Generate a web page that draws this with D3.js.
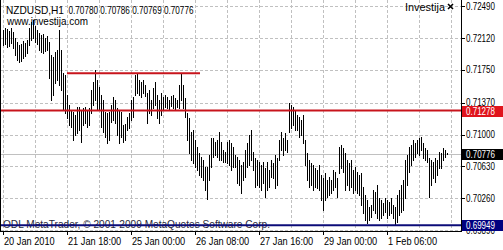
<!DOCTYPE html>
<html>
<head>
<meta charset="utf-8">
<script src="https://cdn.jsdelivr.net/npm/d3@7"></script>
<style>
html, body { margin: 0; padding: 0; background: #ffffff; }
svg { display: block; font-family: "Liberation Sans", Arial, sans-serif; }
</style>
</head>
<body>
<div id="chart"></div>
<script>
var symbol_name = "NZDUSD,H1";
var last_ohlc = ["0.70780", "0.70786", "0.70769", "0.70776"];
var current_price = 0.70776;

// hourly highs / lows, one entry per bar
var highs = [
    0.72212, 0.72235, 0.72223, 0.72200, 0.72235, 0.72188, 0.72119, 0.72073, 0.72038, 0.72049,
    0.72084, 0.72061, 0.72096, 0.72235, 0.72304, 0.72328, 0.72258, 0.72212, 0.72177, 0.72154,
    0.72165, 0.72119, 0.72142, 0.72073, 0.71922, 0.71899, 0.71957, 0.71980, 0.72212, 0.71980,
    0.71713, 0.71690, 0.71458, 0.71342, 0.71284, 0.71261, 0.71226, 0.71319, 0.71319, 0.71284,
    0.71307, 0.71319, 0.71284, 0.71307, 0.71516, 0.71609, 0.71748, 0.71632, 0.71551, 0.71458,
    0.71400, 0.71261, 0.71249, 0.71261, 0.71342, 0.71435, 0.71400, 0.71307, 0.71284, 0.71261,
    0.71110, 0.71122, 0.71203, 0.71249, 0.71400, 0.71435, 0.71690, 0.71713, 0.71632, 0.71609,
    0.71632, 0.71574, 0.71481, 0.71516, 0.71400, 0.71539, 0.71609, 0.71458, 0.71400, 0.71481,
    0.71435, 0.71458, 0.71435, 0.71400, 0.71446, 0.71458, 0.71423, 0.71400, 0.71574, 0.71713,
    0.71574, 0.71423, 0.71249, 0.71191, 0.71029, 0.71052, 0.70936, 0.70855, 0.70785, 0.70739,
    0.70704, 0.70623, 0.70623, 0.70762, 0.70959, 0.70959, 0.70913, 0.70936, 0.71029, 0.70913,
    0.70820, 0.70797, 0.70913, 0.70936, 0.70901, 0.70855, 0.70762, 0.70739, 0.70704, 0.70646,
    0.70681, 0.70820, 0.70901, 0.70994, 0.71052, 0.70797, 0.70727, 0.70704, 0.70681, 0.70646,
    0.70681, 0.70611, 0.70681, 0.70588, 0.70704, 0.70669, 0.70762, 0.70727, 0.70936, 0.71029,
    0.70959, 0.71017, 0.70936, 0.71365, 0.71342, 0.71319, 0.71284, 0.71226, 0.71203, 0.71168,
    0.71226, 0.70936, 0.70785, 0.70704, 0.70669, 0.70646, 0.70611, 0.70588, 0.70646, 0.70530,
    0.70495, 0.70553, 0.70472, 0.70507, 0.70472, 0.70588, 0.70565, 0.70495, 0.70855, 0.70878,
    0.70843, 0.70785, 0.70704, 0.70669, 0.70704, 0.70588, 0.70623, 0.70565, 0.70530, 0.70553,
    0.70391, 0.70298, 0.70240, 0.70159, 0.70182, 0.70356, 0.70333, 0.70414, 0.70263, 0.70240,
    0.70205, 0.70263, 0.70240, 0.70217, 0.70263, 0.70182, 0.70159, 0.70298, 0.70356, 0.70414,
    0.70472, 0.70704, 0.70762, 0.70855, 0.70878, 0.70936, 0.70901, 0.70936, 0.70959, 0.70971,
    0.70901, 0.70843, 0.70820, 0.70727, 0.70704, 0.70681, 0.70727, 0.70704, 0.70797, 0.70785,
    0.70843, 0.70820, 0.70786
];
var lows = [
    0.72038, 0.72049, 0.72015, 0.72026, 0.72061, 0.72003, 0.71922, 0.71864, 0.71841, 0.71852,
    0.71887, 0.71910, 0.71945, 0.72038, 0.72096, 0.72119, 0.72073, 0.72049, 0.71980, 0.71957,
    0.71945, 0.71968, 0.71980, 0.71655, 0.71400, 0.71458, 0.71597, 0.71632, 0.71574, 0.71516,
    0.71284, 0.71249, 0.71191, 0.71110, 0.71087, 0.70936, 0.70994, 0.71017, 0.71052, 0.70913,
    0.71110, 0.71133, 0.71087, 0.71110, 0.71249, 0.71342, 0.71400, 0.71284, 0.71284, 0.71087,
    0.71029, 0.70971, 0.70901, 0.70936, 0.71145, 0.71168, 0.71133, 0.70994, 0.70901, 0.70971,
    0.70913, 0.70936, 0.71052, 0.71075, 0.71168, 0.71203, 0.71458, 0.71481, 0.71458, 0.71435,
    0.71481, 0.71446, 0.71133, 0.71249, 0.71226, 0.71307, 0.71342, 0.71191, 0.71133, 0.71226,
    0.71284, 0.71319, 0.71307, 0.71284, 0.71330, 0.71307, 0.71284, 0.71319, 0.71307, 0.71400,
    0.71307, 0.71203, 0.70936, 0.70785, 0.70704, 0.70669, 0.70623, 0.70588, 0.70530, 0.70507,
    0.70472, 0.70356, 0.70252, 0.70472, 0.70623, 0.70739, 0.70762, 0.70739, 0.70704, 0.70704,
    0.70681, 0.70681, 0.70669, 0.70646, 0.70588, 0.70623, 0.70623, 0.70437, 0.70414, 0.70321,
    0.70472, 0.70507, 0.70623, 0.70646, 0.70704, 0.70588, 0.70391, 0.70414, 0.70391, 0.70356,
    0.70437, 0.70275, 0.70356, 0.70391, 0.70507, 0.70495, 0.70379, 0.70414, 0.70704, 0.70820,
    0.70762, 0.70820, 0.70797, 0.71029, 0.71075, 0.71110, 0.71052, 0.71052, 0.70971, 0.70994,
    0.70901, 0.70646, 0.70472, 0.70391, 0.70414, 0.70356, 0.70391, 0.70379, 0.70356, 0.70240,
    0.70124, 0.70240, 0.70275, 0.70298, 0.70321, 0.70356, 0.70391, 0.70275, 0.70553, 0.70611,
    0.70565, 0.70356, 0.70414, 0.70356, 0.70391, 0.70321, 0.70356, 0.70321, 0.70298, 0.70182,
    0.70089, 0.70008, 0.69973, 0.70008, 0.70043, 0.70124, 0.70089, 0.70031, 0.70008, 0.70031,
    0.70066, 0.70101, 0.70031, 0.70066, 0.70089, 0.70031, 0.69949, 0.69984, 0.70066, 0.70101,
    0.70124, 0.70263, 0.70414, 0.70565, 0.70646, 0.70704, 0.70739, 0.70785, 0.70762, 0.70820,
    0.70727, 0.70704, 0.70681, 0.70275, 0.70414, 0.70495, 0.70449, 0.70530, 0.70611, 0.70611,
    0.70704, 0.70739, 0.70769
];

var price_ticks = [0.72490, 0.72120, 0.71750, 0.71370, 0.71000, 0.70630, 0.70260, 0.69890];
var time_labels = ["20 Jan 2010", "21 Jan 18:00", "25 Jan 00:00", "26 Jan 08:00", "27 Jan 16:00", "29 Jan 00:00", "1 Feb 06:00"];
var time_label_bars = [0, 32, 64, 96, 128, 160, 192];

var support_level = 0.69949;
var resistance_level = 0.71278;
// short trend line: [first bar, last bar, price]
var top_trend_line = [32, 98.5, 0.71710];

var watermark_text = "ODL MetaTrader, \u00a9 2001-2009 MetaQuotes Software Corp.";

var svg_width = 503;
var svg_height = 250;
var plot_right = 461;
var plot_bottom = 231;

var svg = d3.select("#chart").append("svg")
            .attr("width", svg_width)
            .attr("height", svg_height);

var x = d3.scaleLinear().domain([0, 222]).range([3, 447]);
var y = d3.scaleLinear().domain([0.69881, 0.72560]).range([plot_bottom, 0]);

function squeeze(selection, factor)
{
    selection.each(function () {
        var w = this.getComputedTextLength();
        this.setAttribute("textLength", (w * factor).toFixed(1));
        this.setAttribute("lengthAdjust", "spacingAndGlyphs");
    });
}

function fit(selection, width)
{
    selection.attr("textLength", width).attr("lengthAdjust", "spacingAndGlyphs");
}

// grid
var grid = svg.append("g")
              .attr("stroke", "#c0c0c0")
              .attr("stroke-dasharray", "3,2")
              .attr("shape-rendering", "crispEdges");

grid.selectAll("line.h").data(price_ticks).enter().append("line")
    .attr("x1", 0).attr("x2", plot_right)
    .attr("y1", function (d) { return Math.round(y(d)) + 0.5; })
    .attr("y2", function (d) { return Math.round(y(d)) + 0.5; });

grid.selectAll("line.v").data(d3.range(0, 225, 16)).enter().append("line")
    .attr("y1", 0).attr("y2", plot_bottom)
    .attr("x1", function (d) { return x(d) + 0.5; })
    .attr("x2", function (d) { return x(d) + 0.5; });

// current price line
svg.append("line")
   .attr("x1", 0).attr("x2", plot_right)
   .attr("y1", Math.round(y(current_price)) + 0.5)
   .attr("y2", Math.round(y(current_price)) + 0.5)
   .attr("stroke", "#c0c0c0")
   .attr("shape-rendering", "crispEdges");

// bars
svg.append("g").selectAll("line").data(highs).enter().append("line")
   .attr("x1", function (d, i) { return x(i) + 0.5; })
   .attr("x2", function (d, i) { return x(i) + 0.5; })
   .attr("y1", function (d) { return y(d); })
   .attr("y2", function (d, i) { return y(lows[i]) + 1; })
   .attr("stroke", "#000000")
   .attr("stroke-width", 1)
   .attr("shape-rendering", "crispEdges");

// watermark
svg.append("text")
   .attr("x", 3).attr("y", 228)
   .attr("font-size", "10.5px")
   .attr("fill", "#2a2a3a")
   .text(watermark_text)
   .call(fit, 267);

// levels
svg.append("line")
   .attr("x1", x(top_trend_line[0])).attr("x2", x(top_trend_line[1]))
   .attr("y1", y(top_trend_line[2])).attr("y2", y(top_trend_line[2]))
   .attr("stroke", "#c8141c").attr("stroke-width", 2);

svg.append("line")
   .attr("x1", 0).attr("x2", plot_right)
   .attr("y1", y(resistance_level)).attr("y2", y(resistance_level))
   .attr("stroke", "#c8141c").attr("stroke-width", 2);

svg.append("line")
   .attr("x1", 0).attr("x2", plot_right)
   .attr("y1", y(support_level)).attr("y2", y(support_level))
   .attr("stroke", "#0c0c78").attr("stroke-width", 2);

// frame
svg.append("path")
   .attr("d", "M0.5,0 V" + (plot_bottom + 0.5) + " H" + (plot_right + 0.5) + " V0")
   .attr("fill", "none")
   .attr("stroke", "#000000")
   .attr("shape-rendering", "crispEdges");

// price axis
var price_axis = svg.append("g");
price_axis.selectAll("line").data(price_ticks).enter().append("line")
    .attr("x1", plot_right).attr("x2", plot_right + 4)
    .attr("y1", function (d) { return Math.round(y(d)) + 0.5; })
    .attr("y2", function (d) { return Math.round(y(d)) + 0.5; })
    .attr("stroke", "#000000")
    .attr("shape-rendering", "crispEdges");

price_axis.selectAll("text").data(price_ticks).enter().append("text")
    .attr("x", 466)
    .attr("y", function (d) { return y(d) + 3.6; })
    .attr("font-size", "10px")
    .attr("fill", "#000000")
    .text(function (d) { return d.toFixed(5); })
    .call(fit, 29);

// price labels for the levels
var level_labels = [
    [resistance_level, "#e0141c"],
    [current_price, "#000000"],
    [support_level, "#000080"]
];

var level_group = svg.append("g").selectAll("g").data(level_labels).enter().append("g");

level_group.append("rect")
    .attr("x", plot_right + 1)
    .attr("y", function (d) { return Math.round(y(d[0])) - 5; })
    .attr("width", svg_width - plot_right - 1)
    .attr("height", 11)
    .attr("fill", function (d) { return d[1]; });

level_group.append("text")
    .attr("x", 466)
    .attr("y", function (d) { return Math.round(y(d[0])) + 4; })
    .attr("font-size", "10px")
    .attr("fill", "#ffffff")
    .text(function (d) { return d[0].toFixed(5); })
    .call(fit, 29);

// time axis
var time_axis = svg.append("g");
time_axis.selectAll("line").data(time_label_bars).enter().append("line")
    .attr("x1", function (d) { return x(d) + 0.5; })
    .attr("x2", function (d) { return x(d) + 0.5; })
    .attr("y1", plot_bottom).attr("y2", plot_bottom + 4)
    .attr("stroke", "#000000")
    .attr("shape-rendering", "crispEdges");

time_axis.selectAll("text").data(time_labels).enter().append("text")
    .attr("x", function (d, i) { return x(time_label_bars[i]) + 1; })
    .attr("y", 245)
    .attr("font-size", "10px")
    .attr("fill", "#000000")
    .text(function (d) { return d; })
    .call(squeeze, 0.92);

// header texts
svg.append("text")
   .attr("x", 6).attr("y", 14)
   .attr("font-size", "10.5px")
   .text(symbol_name)
   .call(fit, 58);

svg.append("text")
   .attr("x", 68.5).attr("y", 14)
   .attr("font-size", "10.5px")
   .text(last_ohlc.join(" "))
   .call(fit, 125);

svg.append("text")
   .attr("x", 7).attr("y", 25)
   .attr("font-size", "10.5px")
   .text("www.investija.com")
   .call(fit, 81);

svg.append("text")
   .attr("x", 405).attr("y", 11)
   .attr("font-size", "10.5px")
   .text("Investija")
   .call(fit, 40);

svg.append("path")
   .attr("d", "M448,4 L453,9 M453,4 L448,9")
   .attr("stroke", "#000000")
   .attr("stroke-width", 1.6);
</script>
</body>
</html>
